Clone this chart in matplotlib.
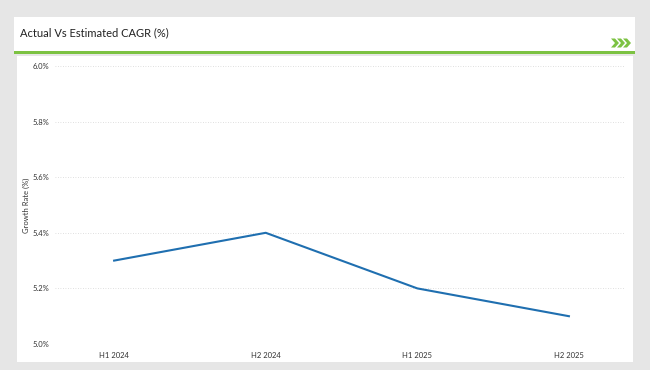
import matplotlib
matplotlib.use("Agg")
import matplotlib.pyplot as plt
from matplotlib.patches import Rectangle, Polygon

categories = ["H1 2024", "H2 2024", "H1 2025", "H2 2025"]
values = [5.3, 5.4, 5.2, 5.1]
yticks = [5.0, 5.2, 5.4, 5.6, 5.8, 6.0]
title = "Actual Vs Estimated CAGR (%)"
ylabel = "Growth Rate (%)"

plt.rcParams['font.family'] = ['Lato', 'DejaVu Sans']

W, H = 650, 370
fig = plt.figure(figsize=(6.5, 3.7), dpi=100)
fig.patch.set_facecolor("#e6e6e6")

def px(x0, y0, w, h):
    return [x0 / W, 1 - (y0 + h) / H, w / W, h / H]

bg = fig.add_axes([0, 0, 1, 1], zorder=0)
bg.set_xlim(0, W); bg.set_ylim(H, 0); bg.axis("off")
bg.add_patch(Rectangle((14, 17), 621, 35, facecolor="white", edgecolor="none"))
bg.add_patch(Rectangle((14, 51), 621, 2.5, facecolor="#7cc242", edgecolor="none"))
bg.add_patch(Rectangle((17, 56), 616, 306, facecolor="white", edgecolor="none"))
bg.text(20, 33, title, fontsize=8, color="#222222", va="center", ha="left")
for i in range(3):
    x = 611 + i * 6
    bg.add_patch(Polygon([(x, 38.5), (x + 4, 38.5), (x + 8, 43), (x + 4, 47.5), (x, 47.5), (x + 4, 43)],
                         closed=True, facecolor="#7cc242", edgecolor="none"))

ax = fig.add_axes(px(55, 66, 570, 278), zorder=1)
ax.patch.set_alpha(0)
x = list(range(len(categories)))
ax.plot(x, values, color="#1f6fb0", lw=1.5)
ax.set_xlim(-0.39, 3.37)
ax.set_ylim(5.0, 6.0)
ax.set_yticks(yticks)
ax.set_yticklabels([f"{v:.1f}%" for v in yticks])
ax.set_xticks(x)
ax.set_xticklabels(categories)
ax.tick_params(axis="both", length=0, labelsize=5.5, colors="#333333")
ax.tick_params(axis="y", pad=4)
ax.tick_params(axis="x", pad=6)
ax.grid(axis="y", color="#d5d5d5", linestyle=(0, (1, 2)), lw=0.6)
for s in ax.spines.values():
    s.set_visible(False)
ax.set_ylabel(ylabel, fontsize=5.5, color="#333333", labelpad=2)

fig.savefig("out.png", dpi=100, facecolor=fig.get_facecolor())
